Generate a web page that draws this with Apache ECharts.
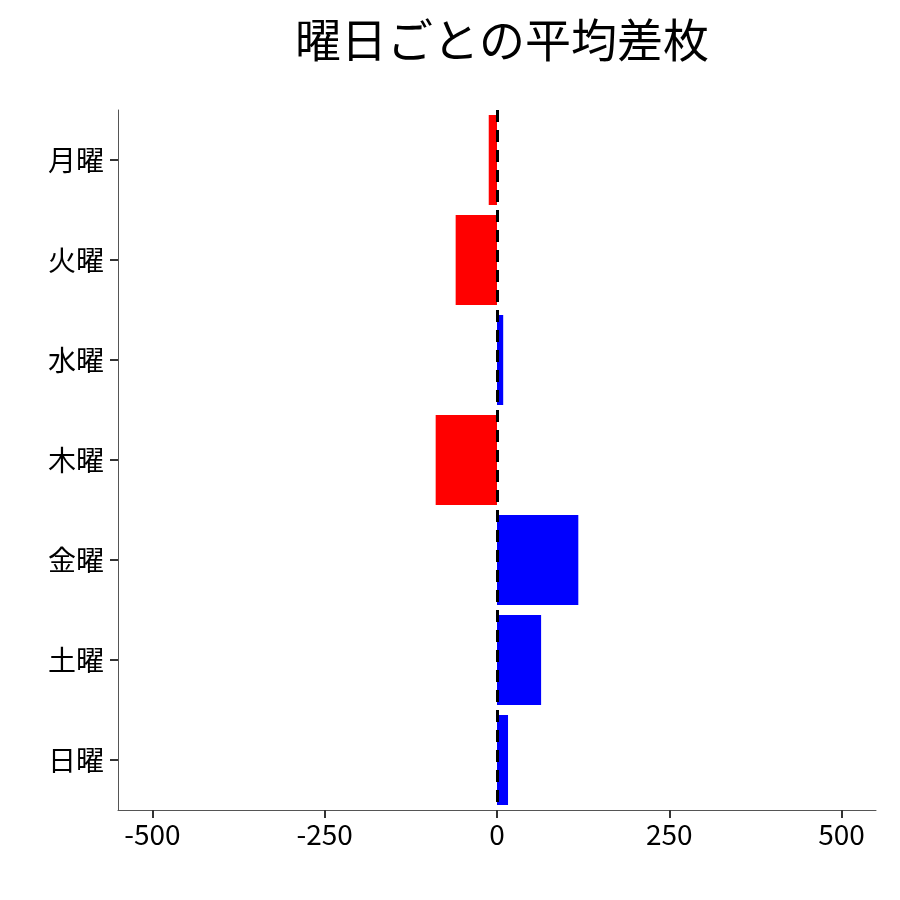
<!DOCTYPE html>
<html><head><meta charset="utf-8">
<script src="https://cdn.jsdelivr.net/npm/echarts@6/dist/echarts.min.js"></script>
<style>html,body{margin:0;padding:0;background:#fff}#c{width:900px;height:900px}</style>
</head><body><div id="c"></div>
<script>
const days = ['月曜','火曜','水曜','木曜','金曜','土曜','日曜'];
const values = [-12, -60, 9, -89, 118, 64, 16];
const xTicks = [-500, -250, 0, 250, 500];
const font = '"Noto Sans CJK JP", "Noto Sans", sans-serif';
const chart = echarts.init(document.getElementById('c'));
chart.setOption({
  animation: false,
  title: { text: '曜日ごとの平均差枚', left: 497, textAlign: 'center', top: 12,
    textStyle: { fontFamily: font, fontSize: 46, fontWeight: 'normal', color: '#000' } },
  grid: { left: 118, right: 24, top: 110, bottom: 90 },
  xAxis: { type: 'value', min: -550, max: 550, position: 'bottom',
    axisLine: { show: true, onZero: false, lineStyle: { color: '#555', width: 1 } },
    axisTick: { show: true, customValues: xTicks, length: 8, lineStyle: { color: '#333', width: 2 } },
    axisLabel: { customValues: xTicks, fontFamily: font, fontSize: 28, color: '#000', margin: 10 },
    splitLine: { show: false } },
  yAxis: { type: 'category', data: days, inverse: true,
    axisLine: { show: true, onZero: false, lineStyle: { color: '#555', width: 1 } },
    axisTick: { show: true, alignWithLabel: true, length: 8, lineStyle: { color: '#333', width: 2 } },
    axisLabel: { fontFamily: font, fontSize: 28, color: '#000', margin: 14 } },
  series: [{ type: 'bar', barWidth: '90%',
    data: values.map(v => ({ value: v, itemStyle: { color: v < 0 ? '#ff0000' : '#0000ff' } })),
    markLine: { silent: true, symbol: 'none', label: { show: false },
      lineStyle: { color: '#000', type: [12, 8], width: 3 },
      data: [{ xAxis: 0 }] } }]
});
</script></body></html>
